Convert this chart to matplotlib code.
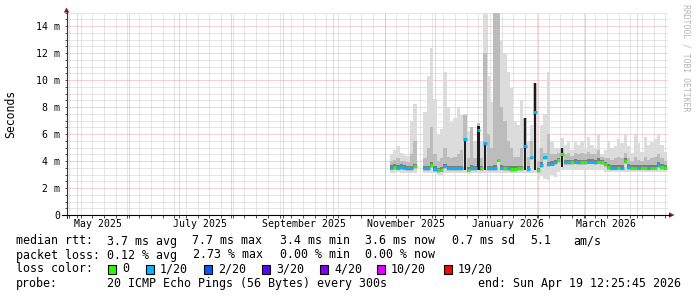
import numpy as np
import pandas as pd
import matplotlib
matplotlib.use('Agg')
import matplotlib.pyplot as plt
import matplotlib.dates as mdates
from matplotlib.patches import Polygon, Rectangle
from matplotlib.lines import Line2D

nan = np.nan

# ---------------- data ----------------
graph_end = pd.Timestamp('2026-04-19 12:25:45')
graph_days = 360
sample_dates = pd.date_range('2025-11-05', periods=83, freq='2D')

median_ms = [3.5, 3.55, 3.5, 3.55, 3.5, 3.45, 3.45, 3.6, nan, nan,
             3.45, 3.45, 3.7, 3.4, 3.3, 3.35, 3.6, 3.45, 3.45, 3.45,
             3.45, 3.45, 5.6, 3.35, 3.45, 3.45, 6.3, 3.45, 5.3, 3.45,
             3.45, 3.45, 4.1, 3.5, 3.45, 3.45, 3.4, 3.4, 3.45, 3.45,
             5.1, 3.4, 4.3, 7.6, 3.3, 3.7, 4.3, 3.75, 3.8, 3.9,
             4.05, 4.5, 3.9, 3.9, 3.9, 3.95, 3.9, 3.9, 3.9, 3.95,
             3.95, 3.9, 3.95, 3.9, 3.75, 3.55, 3.5, 3.5, 3.5, 3.5,
             4.0, 3.55, 3.5, 3.5, 3.5, 3.5, 3.5, 3.5, 3.5, 3.5,
             3.7, 3.55, 3.5]

loss_idx = [1, 0, 1, 1, 1, 1, 1, 0, 0, 0,
            1, 1, 0, 1, 0, 0, 1, 1, 1, 1,
            1, 1, 1, 0, 1, 1, 1, 0, 1, 1,
            1, 1, 0, 1, 0, 1, 0, 0, 0, 0,
            1, 1, 1, 1, 0, 1, 1, 1, 1, 1,
            0, 0, 1, 1, 0, 1, 1, 0, 0, 1,
            1, 1, 0, 0, 0, 0, 1, 1, 0, 1,
            0, 1, 0, 0, 1, 0, 0, 1, 0, 0,
            1, 0, 0]

smoke_max = [4.5, 4.8, 5.1, 4.6, 4.5, 4.4, 7.0, 8.2, nan, nan,
             7.6, 10.3, 12.4, 8.6, 6.0, 6.4, 10.6, 7.9, 6.9, 7.2,
             7.9, 7.4, 7.5, 6.2, 6.5, 5.5, 6.7, 5.5, 14.9, 10.3,
             8.4, 15.0, 15.0, 13.0, 11.9, 10.6, 9.4, 7.0, 6.7, 8.5,
             7.2, 5.5, 6.7, 9.8, 5.0, 6.7, 7.5, 10.6, 5.5, 5.0,
             5.0, 5.7, 5.2, 5.5, 4.8, 5.5, 5.2, 5.5, 5.0, 5.8,
             5.2, 5.0, 5.9, 4.5, 4.8, 5.5, 5.0, 5.1, 5.6, 5.3,
             5.9, 5.1, 4.6, 6.0, 5.3, 4.7, 5.8, 5.2, 5.4, 5.6,
             5.9, 5.2, 4.7]

smoke_mid = [4.0, 4.1, 4.2, 4.0, 4.0, 3.9, 4.5, 5.5, nan, nan,
             4.2, 5.0, 6.5, 4.5, 4.0, 4.2, 5.0, 4.3, 4.2, 4.3,
             4.5, 4.8, 7.4, 4.2, 6.5, 4.2, 6.8, 4.2, 12.0, 6.0,
             5.0, 15.0, 15.0, 8.0, 7.0, 5.5, 5.0, 4.3, 4.3, 5.0,
             7.2, 4.3, 5.5, 9.8, 4.0, 5.0, 4.6, 6.0, 4.5, 4.5,
             4.6, 5.0, 4.5, 4.6, 4.4, 4.6, 4.5, 4.6, 4.5, 4.7,
             4.5, 4.5, 4.8, 4.3, 4.2, 4.2, 4.1, 4.2, 4.3, 4.2,
             4.6, 4.2, 4.0, 4.3, 4.1, 4.0, 4.3, 4.1, 4.2, 4.3,
             4.5, 4.2, 4.0]

smoke_dark = [3.8, 3.85, 3.8, 3.85, 3.8, 3.75, 3.75, 3.9, nan, nan,
              3.75, 3.75, 4.0, 3.7, 3.6, 3.65, 3.9, 3.75, 3.75, 3.75,
              3.75, 3.75, 5.7, 3.65, 3.8, 3.75, 6.6, 3.75, 5.4, 3.75,
              3.75, 3.8, 4.2, 3.8, 3.75, 3.75, 3.7, 3.7, 3.75, 3.75,
              7.2, 3.7, 4.4, 9.8, 3.6, 4.0, 4.4, 4.05, 4.1, 4.2,
              4.35, 5.0, 4.2, 4.2, 4.2, 4.25, 4.2, 4.2, 4.2, 4.25,
              4.25, 4.2, 4.3, 4.2, 4.05, 3.85, 3.8, 3.8, 3.8, 3.8,
              4.3, 3.85, 3.8, 3.8, 3.8, 3.8, 3.8, 3.8, 3.8, 3.8,
              4.0, 3.85, 3.8]

smoke_min = [3.1, 3.1, 3.15, 3.1, 3.1, 3.1, 3.1, 3.1, nan, nan,
             3.1, 3.1, 3.1, 3.1, 2.95, 2.95, 3.1, 3.1, 3.1, 3.1,
             3.1, 3.1, 3.1, 3.05, 3.1, 3.1, 3.1, 3.1, 3.1, 3.1,
             3.1, 3.1, 3.1, 3.1, 3.1, 3.1, 3.1, 3.1, 3.1, 3.1,
             3.1, 3.1, 3.1, 3.1, 2.6, 2.9, 2.7, 2.6, 3.0, 2.8,
             3.2, 3.3, 3.3, 3.3, 3.3, 3.3, 3.3, 3.3, 3.3, 3.3,
             3.3, 3.3, 3.3, 3.3, 3.2, 3.15, 3.15, 3.15, 3.15, 3.15,
             3.15, 3.15, 3.15, 3.15, 3.15, 3.15, 3.15, 3.15, 3.15, 3.15,
             3.15, 3.15, 3.15]

y_ticks_ms = [0, 2, 4, 6, 8, 10, 12, 14]
y_tick_labels = ['0', '2 m', '4 m', '6 m', '8 m', '10 m', '12 m', '14 m']
month_labels = ['May 2025', 'July 2025', 'September 2025', 'November 2025',
                'January 2026', 'March 2026']
month_label_starts = ['2025-05-01', '2025-07-01', '2025-09-01', '2025-11-01',
                      '2026-01-01', '2026-03-01']

loss_colors = ['#26ff00', '#00b8ff', '#0059ff', '#5e00ff', '#7e00ff', '#dd00ff', '#ff0000']
loss_names = ['0', '1/20', '2/20', '3/20', '4/20', '10/20', '19/20']

rtt_items = ['3.7 ms avg', '7.7 ms max', '3.4 ms min', '3.6 ms now', '0.7 ms sd', '5.1', 'am/s']
loss_items = ['0.12 % avg', '2.73 % max', '0.00 % min', '0.00 % now']
probe_text = '20 ICMP Echo Pings (56 Bytes) every 300s'
end_text = 'end: Sun Apr 19 12:25:45 2026'

# ---------------- figure ----------------
plt.rcParams['font.family'] = ['DejaVu Sans Mono']
W, H = 697, 297
fig = plt.figure(figsize=(W / 100, H / 100), dpi=100)
fig.patch.set_facecolor('white')


def fx(x):
    return x / W


def fy(y):
    return 1 - y / H


L, R, B, T = 66.5, 668, 215, 12.5
ax = fig.add_axes([fx(L), fy(B), (R - L) / W, (B - T) / H])
ax.set_facecolor('white')
start = graph_end - pd.Timedelta(days=graph_days)
ax.set_xlim(mdates.date2num(start), mdates.date2num(graph_end))
ax.set_ylim(0, 15)
for s in ax.spines.values():
    s.set_visible(False)

# grid (dotted)
dot = (0, (1, 1))
minor_col = '#cecece'
major_col = '#eca4a4'
gkw = dict(lw=0.72, ls=dot)
for v in np.arange(0.5, 15.01, 0.5):
    if v % 2 != 0:
        ax.axhline(v, color=minor_col, zorder=1, **gkw)
weeks = pd.date_range(start.normalize(), graph_end, freq='W-SAT')
months = pd.date_range(start.normalize(), graph_end, freq='MS')
for d in weeks:
    ax.axvline(mdates.date2num(d), color=minor_col, zorder=1, **gkw)
for v in y_ticks_ms[1:]:
    ax.axhline(v, color=major_col, zorder=1.2, **gkw)
for d in months:
    ax.axvline(mdates.date2num(d), color=major_col, zorder=1.2, **gkw)

# smoke
xd = mdates.date2num(sample_dates)
med = np.array(median_ms)
top = np.array(smoke_max)
mid = np.array(smoke_mid)
dark = np.array(smoke_dark)
lo = np.array(smoke_min)
ok = ~np.isnan(med)
ax.bar(xd[ok], (top - lo)[ok], bottom=lo[ok], width=2.0, color='#dcdcdc', lw=0, zorder=2)
ax.bar(xd[ok], (mid - med + 0.2)[ok], bottom=(med - 0.2)[ok], width=2.0, color='#bcbcbc', lw=0, zorder=2.1)
spike = ok & (((dark - med) > 0.45) | (med > 4.4))
norm = ok & ~spike
ax.bar(xd[norm], (dark - med + 0.05)[norm], bottom=(med - 0.15)[norm], width=2.0, color='#7c7c7c', lw=0, zorder=2.2)
ax.bar(xd[spike], (dark - lo - 0.25)[spike], bottom=(lo + 0.25)[spike], width=1.5, color='#1c1c1c', lw=0, zorder=2.3)

# median line coloured by loss
cols = [loss_colors[k] for k in loss_idx]
for i in np.where(ok)[0]:
    ax.hlines(med[i], xd[i] - 1.0, xd[i] + 1.0, colors=cols[i], lw=2.1, zorder=5)

# ticks
ax.set_yticks(y_ticks_ms, y_tick_labels)
ax.set_yticks(np.arange(0, 15.01, 0.5), minor=True)
ax.tick_params(axis='y', which='both', length=1.6, width=0.72, color='#555555',
               pad=3.0, labelsize=7.1)
lab_pos = [mdates.date2num(pd.Timestamp(d) + pd.Timedelta(days=12.5)) for d in month_label_starts]
ax.set_xticks(lab_pos, month_labels)
ax.set_xticks([mdates.date2num(d) for d in weeks.union(months)], minor=True)
ax.tick_params(axis='x', which='major', length=0, pad=3.2, labelsize=7.1)
ax.tick_params(axis='x', which='minor', length=1.8, width=0.72, color='#555555')

ax.set_ylabel('Seconds', fontsize=8.3)
ax.yaxis.set_label_coords((10.5 - L) / (R - L), 0.5)
ax.yaxis.label.set_va('center')

# axis lines + arrows
fig.add_artist(Line2D([fx(L), fx(L)], [fy(218), fy(11)], color='#333333', lw=0.8))
fig.add_artist(Line2D([fx(62), fx(670)], [fy(B), fy(B)], color='#000000', lw=0.8))
fig.add_artist(Polygon([[fx(63.8), fy(12.5)], [fx(69.3), fy(12.5)], [fx(66.5), fy(7.5)]],
                       closed=True, color='#8b1a1a', lw=0))
fig.add_artist(Polygon([[fx(669), fy(212.3)], [fx(669), fy(217.7)], [fx(674.5), fy(215)]],
                       closed=True, color='#8b1a1a', lw=0))

# watermark
fig.text(fx(686), fy(4), 'RRDTOOL / TOBI OETIKER', rotation=270, fontsize=5.9,
         color='#b4b4b4', ha='center', va='top')

# legend / stats
fs = 8.4
r1, r2, r3, r4 = 241, 255, 269, 283
fig.text(fx(16), fy(r1), 'median rtt:', fontsize=fs, va='center')
for x, t in zip([107, 192, 280, 365, 452, 530, 573], rtt_items):
    fig.text(fx(x), fy(r1), t, fontsize=fs, va='center')
fig.text(fx(16), fy(r2), 'packet loss:', fontsize=fs, va='center')
for x, t in zip([107, 193, 280, 365], loss_items):
    fig.text(fx(x), fy(r2), t, fontsize=fs, va='center')
fig.text(fx(16), fy(r3), 'loss color:', fontsize=fs, va='center')
box_x = [108, 146, 204, 262, 320, 377, 444]
for bx, c, n in zip(box_x, loss_colors, loss_names):
    fig.add_artist(Rectangle((fx(bx), fy(r3 + 4.5)), 8 / W, 9 / H, facecolor=c,
                             edgecolor='black', lw=0.8, transform=fig.transFigure))
    fig.text(fx(bx + 14), fy(r3), n, fontsize=fs, va='center')
fig.text(fx(16), fy(r4), 'probe:', fontsize=fs, va='center')
fig.text(fx(107), fy(r4), probe_text, fontsize=fs, va='center')
fig.text(fx(681), fy(r4), end_text, fontsize=fs, va='center', ha='right')

fig.savefig('out.png', dpi=100, facecolor='white')
